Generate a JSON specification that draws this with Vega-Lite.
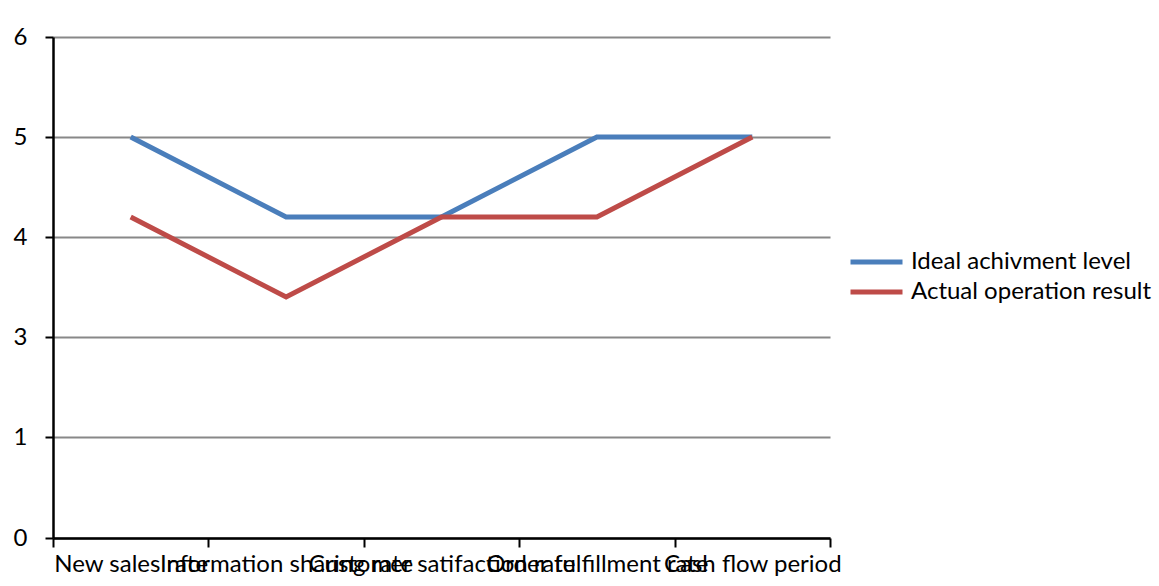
{
  "$schema": "https://vega.github.io/schema/vega-lite/v6.json",
  "width": 777,
  "height": 501,
  "autosize": {"type": "none"},
  "padding": {"left": 53, "top": 37, "right": 329, "bottom": 48},
  "background": "white",
  "config": {
    "view": {"stroke": null},
    "font": "Lato"
  },
  "data": {
    "values": [
      {"indicator": "New sales rate", "series": "Ideal achivment level", "value": 5},
      {"indicator": "Information sharing rate", "series": "Ideal achivment level", "value": 4.2},
      {"indicator": "Customer satifaction rate", "series": "Ideal achivment level", "value": 4.2},
      {"indicator": "Order fulfillment rate", "series": "Ideal achivment level", "value": 5},
      {"indicator": "Cash flow period", "series": "Ideal achivment level", "value": 5},
      {"indicator": "New sales rate", "series": "Actual operation result", "value": 4.2},
      {"indicator": "Information sharing rate", "series": "Actual operation result", "value": 3.4},
      {"indicator": "Customer satifaction rate", "series": "Actual operation result", "value": 4.2},
      {"indicator": "Order fulfillment rate", "series": "Actual operation result", "value": 4.2},
      {"indicator": "Cash flow period", "series": "Actual operation result", "value": 5}
    ]
  },
  "mark": {"type": "line", "strokeWidth": 5, "strokeCap": "butt", "strokeJoin": "miter"},
  "encoding": {
    "x": {
      "field": "indicator",
      "type": "nominal",
      "sort": null,
      "scale": {"type": "band", "paddingInner": 0, "paddingOuter": 0},
      "axis": {
        "title": null,
        "labelAngle": 0,
        "labelFontSize": 24,
        "labelColor": "black",
        "labelPadding": 5,
        "labelOverlap": false,
        "labelBound": false,
        "labelLimit": 0,
        "tickBand": "extent",
        "tickColor": "black",
        "tickWidth": 2,
        "tickSize": 9,
        "domainColor": "black",
        "domainWidth": 2.5,
        "grid": false
      }
    },
    "y": {
      "field": "value",
      "type": "quantitative",
      "scale": {"domain": [0, 1, 3, 6], "range": [501, 400, 300, 0], "nice": false, "zero": false},
      "axis": {
        "title": null,
        "values": [0, 1, 3, 4, 5, 6],
        "labelFontSize": 24,
        "labelColor": "black",
        "labelPadding": 18,
        "tickColor": "black",
        "tickWidth": 2,
        "tickSize": 8,
        "domainColor": "black",
        "domainWidth": 2.5,
        "grid": true,
        "gridColor": "#888888",
        "gridWidth": 2
      }
    },
    "color": {
      "field": "series",
      "type": "nominal",
      "scale": {
        "domain": ["Ideal achivment level", "Actual operation result"],
        "range": ["#4a7ebb", "#be4b48"]
      },
      "legend": {
        "title": null,
        "orient": "none",
        "legendX": 795,
        "legendY": 210,
        "symbolType": "stroke",
        "symbolSize": 2704,
        "symbolStrokeWidth": 5,
        "labelFontSize": 24,
        "labelColor": "black",
        "labelLimit": 0,
        "labelOffset": 6,
        "clipHeight": 30,
        "rowPadding": 0,
        "symbolOffset": 0
      }
    }
  }
}
